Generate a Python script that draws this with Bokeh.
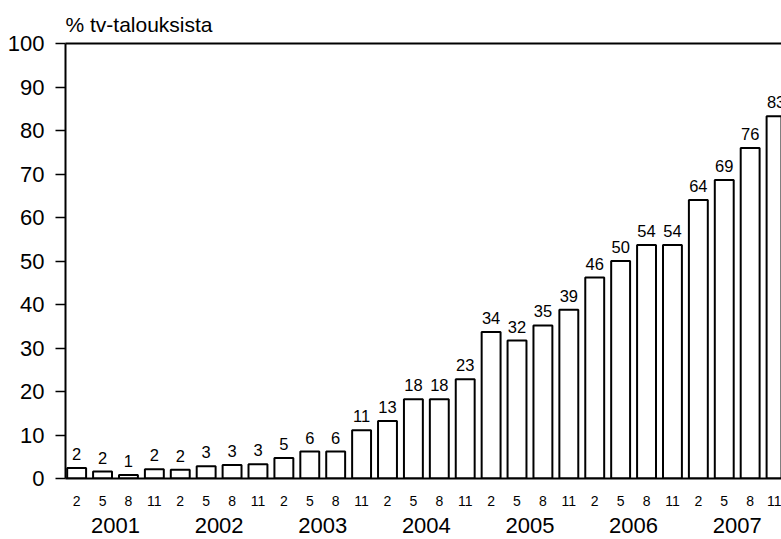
from bokeh.plotting import figure
from bokeh.models import Range1d, LinearAxis, FixedTicker, ColumnDataSource, Title
from bokeh.embed import file_html
from bokeh.resources import INLINE
from bokeh.core.properties import value

# ---- data ----
years = ["2001", "2002", "2003", "2004", "2005", "2006", "2007"]
months = ["2", "5", "8", "11"]
heights = [2.4, 1.6, 0.8, 2.1, 2.0, 2.8, 3.1, 3.3,
           4.7, 6.2, 6.2, 11.1, 13.2, 18.2, 18.2, 22.8,
           33.7, 31.7, 35.2, 38.8, 46.2, 50.0, 53.7, 53.7,
           64.0, 68.6, 76.0, 83.3]
value_labels = ["2", "2", "1", "2", "2", "3", "3", "3",
                "5", "6", "6", "11", "13", "18", "18", "23",
                "34", "32", "35", "39", "46", "50", "54", "54",
                "64", "69", "76", "83"]
y_ticks = [0, 10, 20, 30, 40, 50, 60, 70, 80, 90, 100]
title_text = "% tv-talouksista"

FONT = "Liberation Sans"

n = len(heights)
xs = list(range(n))
month_overrides = {i: months[i % len(months)] for i in xs}
year_pos = [len(months) * k + (len(months) - 1) / 2 for k in range(len(years))]
year_overrides = {pos: yr for pos, yr in zip(year_pos, years)}

src = ColumnDataSource(dict(x=xs, h=heights, lab=value_labels))

p = figure(frame_width=716, frame_height=435,
           x_range=Range1d(-0.43, 27.21), y_range=Range1d(0, 100),
           x_axis_type=None, y_axis_type=None,
           output_backend="svg", toolbar_location=None,
           min_border_left=65, min_border_right=0,
           min_border_top=43, min_border_bottom=61,
           background_fill_color="white", border_fill_color="white",
           outline_line_color=None, title=None)
p.grid.visible = False

# left axis
yax = LinearAxis(ticker=FixedTicker(ticks=y_ticks))
yax.axis_line_width = 2
yax.axis_line_color = "black"
yax.major_tick_out = 10
yax.major_tick_in = 0
yax.major_tick_line_width = 1.5
yax.minor_tick_line_color = None
yax.major_label_standoff = 11
yax.major_label_text_font = FONT
yax.major_label_text_font_size = "22px"
yax.major_label_text_color = "black"
p.add_layout(yax, "left")

# bottom axis: months
max_ = LinearAxis(ticker=FixedTicker(ticks=xs), major_label_overrides=month_overrides)
max_.axis_line_width = 2
max_.axis_line_color = "black"
max_.major_tick_line_color = None
max_.major_tick_out = 0
max_.major_tick_in = 0
max_.minor_tick_line_color = None
max_.major_label_standoff = 17
max_.major_label_text_font = FONT
max_.major_label_text_font_size = "14px"
max_.major_label_text_color = "black"
p.add_layout(max_, "below")

# bottom axis: years
yrax = LinearAxis(ticker=FixedTicker(ticks=year_pos), major_label_overrides=year_overrides)
yrax.axis_line_color = None
yrax.major_tick_line_color = None
yrax.major_tick_out = 0
yrax.major_tick_in = 0
yrax.minor_tick_line_color = None
yrax.major_label_standoff = 9
yrax.major_label_text_font = FONT
yrax.major_label_text_font_size = "22px"
yrax.major_label_text_color = "black"
p.add_layout(yrax, "below")

# top frame line
topax = LinearAxis(ticker=FixedTicker(ticks=[]))
topax.axis_line_width = 2
topax.axis_line_color = "black"
topax.major_tick_line_color = None
topax.major_tick_out = 0
topax.major_tick_in = 0
topax.minor_tick_line_color = None
topax.major_label_text_font_size = "0px"
topax.major_label_standoff = 0
p.add_layout(topax, "above")

t = Title(text=title_text, align="left", text_font=FONT, text_font_size="21px",
          text_font_style="normal", text_color="black", offset=0, standoff=15)
p.add_layout(t, "above")

p.vbar(x="x", top="h", bottom=0, width=0.73, source=src,
       fill_color="white", line_color="black", line_width=2)

p.text(x="x", y="h", text="lab", source=src, text_align="center",
       text_baseline="bottom", y_offset=-8,
       text_font=value(FONT), text_font_size="16.5px", text_color="black")

open("out.html", "w").write(file_html(p, INLINE))
